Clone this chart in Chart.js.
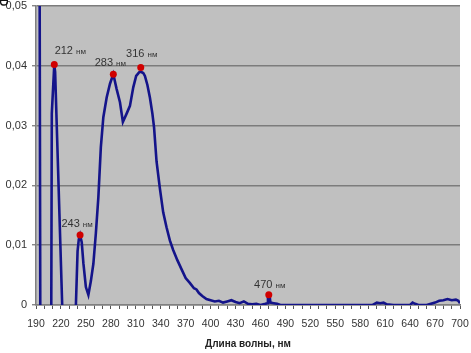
<!DOCTYPE html>
<html>
<head>
<meta charset="utf-8">
<script src="https://cdn.jsdelivr.net/npm/chart.js@4.4.1/dist/chart.umd.min.js"></script>
<style>
  body { margin: 0; background: #fff; }
  canvas { display: block; }
</style>
</head>
<body>
<canvas id="spectrum" width="471" height="353"></canvas>
<script>
// wavelength (nm) and optical density
const wavelengths = [190, 194, 196, 200, 205, 208, 209, 212, 213, 221.5, 224, 230, 236,
  238, 240, 241.5, 243, 245, 247, 250, 253, 256, 259, 262, 265, 268, 271, 275, 279, 283,
  287, 291, 294.5, 299, 303, 307, 310.5, 314, 316, 319, 321, 324, 327, 330, 332, 335, 339,
  343, 347, 351, 355, 360, 365, 370, 375, 380, 383, 386, 390, 395, 400, 405, 410, 415, 420,
  425, 430, 435, 440, 445, 450, 455, 460, 466, 468, 469, 470, 471, 472, 476, 480, 484, 490,
  520, 560, 595, 600, 604, 608, 612, 620, 640, 643, 646, 650, 660, 665, 670, 675, 680, 685,
  690, 695, 698, 700];
const density = [0.30, 0.08, -0.06, -0.08, -0.06, -0.02, 0.032, 0.0402, 0.039, 0.0, -0.02, -0.03, -0.01,
  0.0, 0.009, 0.011, 0.0117, 0.0105, 0.007, 0.003, 0.0017, 0.004, 0.0069, 0.012, 0.018, 0.0264, 0.0314, 0.0347, 0.037, 0.0386,
  0.0361, 0.0339, 0.0306, 0.032, 0.0333, 0.0364, 0.0383, 0.0389, 0.039, 0.0388, 0.0383, 0.0368, 0.0347, 0.032, 0.0297, 0.024, 0.0195,
  0.0155, 0.013, 0.0108, 0.0092, 0.0075, 0.006, 0.0045, 0.0037, 0.0028, 0.0026, 0.002, 0.0015, 0.001, 0.0008, 0.0006, 0.0007, 0.0004, 0.0006,
  0.0008, 0.0005, 0.0003, 0.0006, 0.0002, 0.0001, 0.0002, 0.0, 0.0002, 0.0003, 0.0015, 0.0017, 0.0015, 0.0004, 0.0003, 0.0002, 0.0, 0.0,
  0.0, 0.0, 0.0, 0.0004, 0.0003, 0.0004, 0.0001, 0.0, 0.0, 0.0004, 0.0002, 0.0, 0.0, 0.0002, 0.0004, 0.0007, 0.0008, 0.001,
  0.0008, 0.0009, 0.0007, 0.0003];

// marked maxima
const peakNm = [212, 243, 283, 316, 470];
const peakValues = [0.0402, 0.0117, 0.0386, 0.0397, 0.0017];

const xTickLabels = [190, 220, 250, 280, 310, 340, 370, 400, 430, 460, 490, 520, 550, 580, 610, 640, 670, 700];
const yTickLabels = ['0', '0,01', '0,02', '0,03', '0,04', '0,05'];

const spectrum = wavelengths.map((nm, i) => ({ x: nm, y: density[i] }));
const peaks = peakNm.map((nm, i) => ({ x: nm, y: peakValues[i] }));

// grey plot area
const plotBackground = {
  id: 'plotBackground',
  beforeDraw(chart) {
    const { ctx, chartArea: a } = chart;
    ctx.save();
    ctx.fillStyle = '#c0c0c0';
    ctx.fillRect(a.left, a.top, a.right - a.left, a.bottom - a.top);
    ctx.restore();
  }
};

// "212 нм" style labels above the red markers
const peakLabels = {
  id: 'peakLabels',
  afterDatasetsDraw(chart, args, opts) {
    const { ctx, scales } = chart;
    ctx.save();
    ctx.fillStyle = '#333';
    ctx.textBaseline = 'middle';
    peakNm.forEach((nm, i) => {
      const px = scales.x.getPixelForValue(nm);
      const py = scales.y.getPixelForValue(peakValues[i]);
      const [dx, dy] = opts.shift[i];
      const num = String(nm) + ' ';
      ctx.font = '11px "Liberation Sans", Arial, sans-serif';
      const w1 = ctx.measureText(num).width;
      ctx.font = '8px "Liberation Sans", Arial, sans-serif';
      const w2 = ctx.measureText('нм').width;
      const left = px + dx - (w1 + w2) / 2;
      ctx.font = '11px "Liberation Sans", Arial, sans-serif';
      ctx.textAlign = 'left';
      ctx.fillText(num, left, py + dy);
      ctx.font = '8px "Liberation Sans", Arial, sans-serif';
      ctx.fillText('нм', left + w1, py + dy + 1);
    });
    ctx.restore();
  }
};

// cut-off axis title in the top left corner
const cornerTitle = {
  id: 'cornerTitle',
  afterDraw(chart) {
    const ctx = chart.ctx;
    ctx.save();
    ctx.translate(0, 4);
    ctx.rotate(Math.PI / 2);
    ctx.font = 'bold 10px "Liberation Sans", Arial, sans-serif';
    ctx.fillStyle = '#111';
    ctx.textBaseline = 'middle';
    ctx.fillText('D', -5, -3);
    ctx.restore();
  }
};

new Chart(document.getElementById('spectrum'), {
  type: 'line',
  data: {
    datasets: [
      {
        data: peaks,
        showLine: false,
        pointRadius: 3.5,
        pointHoverRadius: 3.5,
        pointBackgroundColor: '#d00000',
        pointBorderColor: '#d00000',
        pointBorderWidth: 0,
        order: 0
      },
      {
        data: spectrum,
        borderColor: '#14148a',
        borderWidth: 2.6,
        pointRadius: 0,
        tension: 0,
        fill: false,
        order: 1
      }
    ]
  },
  options: {
    responsive: false,
    animation: false,
    events: [],
    layout: { padding: { top: 6, right: 11, left: 0, bottom: 0 } },
    plugins: {
      legend: { display: false },
      tooltip: { enabled: false },
      peakLabels: { shift: [[16, -14], [-3, -11], [-3, -11], [1, -14], [1, -10]] }
    },
    scales: {
      x: {
        type: 'linear',
        min: 190,
        max: 700,
        afterFit(scale) {
          scale.height = 48;
          scale.paddingLeft = 0;
          scale.paddingRight = 0;
        },
        afterBuildTicks(scale) {
          const t = [];
          for (let v = 190; v <= 700; v += 10) t.push({ value: v });
          scale.ticks = t;
        },
        ticks: {
          autoSkip: false,
          maxRotation: 0,
          padding: 9,
          color: '#333',
          font: { family: '"Liberation Sans", Arial, sans-serif', size: 10.5 },
          callback: (v) => xTickLabels.includes(v) ? String(v) : ''
        },
        grid: { drawOnChartArea: false, tickLength: 4, tickColor: '#555', tickWidth: 1 },
        border: { color: '#808080', width: 1.5 },
        title: {
          display: true,
          text: 'Длина волны, нм',
          color: '#222',
          padding: { top: 0, bottom: 3 },
          font: { family: '"Liberation Sans", Arial, sans-serif', size: 10, weight: 'bold' }
        }
      },
      y: {
        min: 0,
        max: 0.05,
        afterFit(scale) {
          scale.width = 36;
          scale.paddingTop = 0;
          scale.paddingBottom = 0;
        },
        ticks: {
          stepSize: 0.01,
          padding: 5,
          color: '#333',
          font: { family: '"Liberation Sans", Arial, sans-serif', size: 11 },
          callback: (v) => yTickLabels[Math.round(v * 100)]
        },
        grid: { color: '#7c7c7c', lineWidth: 1.6, tickLength: 4, tickColor: '#555', tickWidth: 1 },
        border: { color: '#808080', width: 1.5 }
      }
    }
  },
  plugins: [plotBackground, peakLabels, cornerTitle]
});
</script>
</body>
</html>
